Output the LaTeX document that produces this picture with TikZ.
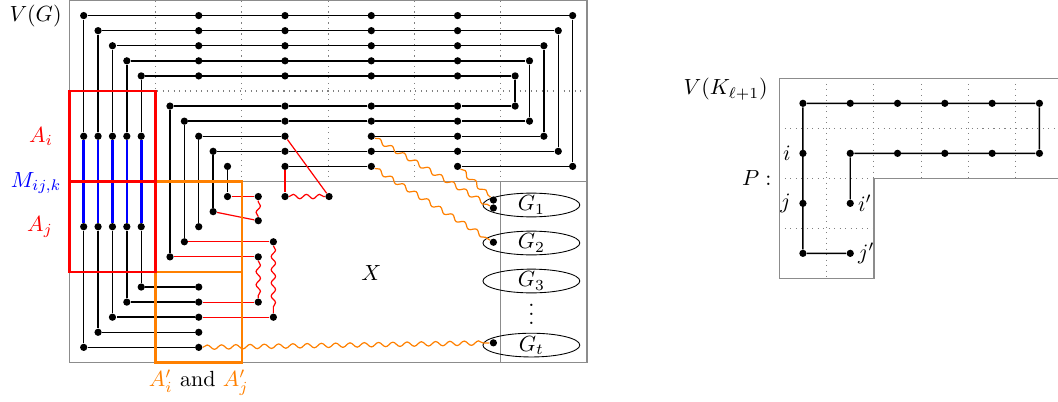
\documentclass[tikz,border=0pt]{standalone}
\usepackage{amsmath,amssymb}
\usepackage{xcolor}
\usepackage{tikz}
\usetikzlibrary{decorations.pathmorphing,shapes.geometric}

\begin{document}
\begin{tikzpicture}[x=0.2301cm, y=-0.2413cm,
  dot/.style={circle, fill, inner sep=0pt, minimum size=3.3pt},
  frame/.style={gray!90, line width=0.6pt},
  gridl/.style={gray, dotted, line width=0.5pt},
  wire/.style={line width=0.65pt},
  rwire/.style={red, line width=0.55pt},
  rwave/.style={red, line width=0.55pt, decorate,
                decoration={snake, amplitude=1pt, segment length=6pt}},
  owave/.style={orange, line width=0.55pt, decorate,
                decoration={snake, amplitude=1pt, segment length=6.5pt}},
  mline/.style={blue, line width=1.2pt},
  abox/.style={red, line width=1.2pt},
  obox/.style={orange, line width=1.2pt},
  gset/.style={ellipse, draw, inner sep=0pt, minimum width=1.55cm,
               minimum height=0.38cm, text height=1.5ex, text depth=0.25ex}
]
  \useasboundingbox (-4.82,-0.033) rectangle (68.75,26.62);

  % grid of V(G)
  \foreach \col in {6,12,...,30} \draw[gridl] (\col,0) -- (\col,12);
  \draw[gridl] (0,6) -- (36,6);
  \draw[frame] (0,0) rectangle (36,24);
  \draw[frame] (0,12) -- (36,12);
  \draw[frame] (30,12) -- (30,24);

  % nested paths
  \foreach \k in {1,...,5} {
    \pgfmathtruncatemacro{\ur}{36-\k}
    \pgfmathtruncatemacro{\vm}{12-\k}
    \pgfmathtruncatemacro{\vd}{12+\k}
    \pgfmathtruncatemacro{\vb}{24-\k}
    \node[dot] (c\k) at (\k,\k) {};
    \node[dot] (ai\k) at (\k,9) {};
    \node[dot] (aj\k) at (\k,15) {};
    \node[dot] (b\k) at (\k,\vb) {};
    \node[dot] (e\k) at (9,\vb) {};
    \foreach \col in {9,15,21,27} \node[dot] (t\k-\col) at (\col,\k) {};
    \node[dot] (q\k) at (\ur,\k) {};
    \node[dot] (s\k) at (\ur,\vm) {};
    \foreach \col in {15,21,27} \node[dot] (m\k-\col) at (\col,\vm) {};
    \node[dot] (d\k) at (\vm,\vm) {};
    \node[dot] (f\k) at (\vm,\vd) {};
    \draw[wire] (e\k) -- (b\k) -- (aj\k);
    \draw[mline] (aj\k) -- (ai\k);
    \draw[wire] (ai\k) -- (c\k) -- (q\k) -- (s\k) -- (m\k-27);
    \draw[wire] (d\k) -- (f\k);
  }
  \foreach \k in {2,4,5} \draw[wire] (m\k-27) -- (m\k-21) -- (m\k-15) -- (d\k);
  \draw[wire] (m3-27) -- (m3-21) (m3-15) -- (d3);
  \draw[wire] (m1-21) -- (m1-15);

  % red detours
  \node[dot] (x1) at (13.14,17) {};
  \node[dot] (x2) at (13.14,20) {};
  \node[dot] (y1) at (14.19,16) {};
  \node[dot] (y2) at (14.19,21) {};
  \node[dot] (z1) at (13.14,14.6) {};
  \node[dot] (z2) at (13.14,13) {};
  \node[dot] (w1) at (15,13) {};
  \node[dot] (w2) at (18.06,13) {};
  \draw[rwire] (f5) -- (x1);
  \draw[rwave] (x1) -- (x2);
  \draw[rwire] (x2) -- (e4);
  \draw[rwire] (f4) -- (y1);
  \draw[rwave] (y1) -- (y2);
  \draw[rwire] (y2) -- (e3);
  \draw[rwire] (f2) -- (z1);
  \draw[rwave] (z1) -- (z2);
  \draw[rwire] (z2) -- (f1);
  \draw[rwire] (m1-15) -- (w1);
  \draw[rwave] (w1) -- (w2);
  \draw[rwire] (w2) -- (m3-15);

  % components G_1..G_t
  \node[gset] (g1) at (32.13,13.56) {$G_1$};
  \node[gset] (g2) at (32.13,16.08) {$G_2$};
  \node[gset] (g3) at (32.13,18.6) {$G_3$};
  \node[gset] (gt) at (32.13,22.85) {$G_t$};
  \node[inner sep=0pt, text height=9.5pt, text depth=0pt] (gdots) at (32.13,20.77) {$\vdots$};
  \node[dot] (h1) at (29.49,13.23) {};
  \node[dot] (h2) at (29.49,13.76) {};
  \node[dot] (h3) at (29.49,16.03) {};
  \node[dot] (h4) at (29.49,22.7) {};
  \draw[owave] (m1-27) -- (h1);
  \draw[owave] (m3-21) -- (h2);
  \draw[owave] (m1-21) -- (h3);
  \draw[owave] (e1) -- (h4);

  % boxes
  \draw[obox] (6,12) rectangle (12,18);
  \draw[obox] (6,18) rectangle (12,24);
  \draw[abox] (0,6) rectangle (6,12);
  \draw[abox] (0,12) rectangle (6,18);

  % labels
  \node[left] (lvg) at (0,1) {$V(G)$};
  \node[left, red] (lai) at (-0.6,9) {$A_i$};
  \node[left, blue] (lm) at (0,12.1) {$M_{ij,k}$};
  \node[left, red] (laj) at (-0.6,15) {$A_j$};
  \node (lx) at (21,18.1) {$X$};
  \node[below] (la) at (9,24) {\textcolor{orange}{$A'_i$} and \textcolor{orange}{$A'_j$}};

  % V(K_{l+1}) and the path P
  \begin{scope}[shift={(49.37,5.16)}, xscale=3.289, yscale=3.316]
    \draw[gridl] (1,0) -- (1,4);
    \foreach \col in {2,...,5} \draw[gridl] (\col,0) -- (\col,2);
    \draw[gridl] (0,1) -- (5.89,1);
    \draw[gridl] (0,2) -- (2,2);
    \draw[gridl] (0,3) -- (2,3);
    \draw[frame] (5.89,0) -- (0,0) -- (0,4) -- (2,4) -- (2,2) -- (5.89,2);
    \foreach \col in {0,...,5} \node[dot] (k\col) at (\col+0.5,0.5) {};
    \foreach \col in {1,...,5} \node[dot] (n\col) at (\col+0.5,1.5) {};
    \node[dot] (ni) at (0.5,1.5) {};
    \node[dot] (nj) at (0.5,2.5) {};
    \node[dot] (ni2) at (1.5,2.5) {};
    \node[dot] (nl) at (0.5,3.5) {};
    \node[dot] (nj2) at (1.5,3.5) {};
    \draw[wire] (nj2) -- (nl) -- (k0) -- (k5) -- (n5) -- (n1) -- (ni2);
    \node[left=2pt] (li) at (ni) {$i$};
    \node[left=2pt] (lj) at (nj) {$j$};
    \node[right] (li2) at (ni2) {$i'$};
    \node[right] (lj2) at (nj2) {$j'$};
    \node[left] (lp) at (0,2) {$P:$};
    \node[left] (lk) at (-0.08,0.22) {$V(K_{\ell+1})$};
  \end{scope}
\end{tikzpicture}
\end{document}
